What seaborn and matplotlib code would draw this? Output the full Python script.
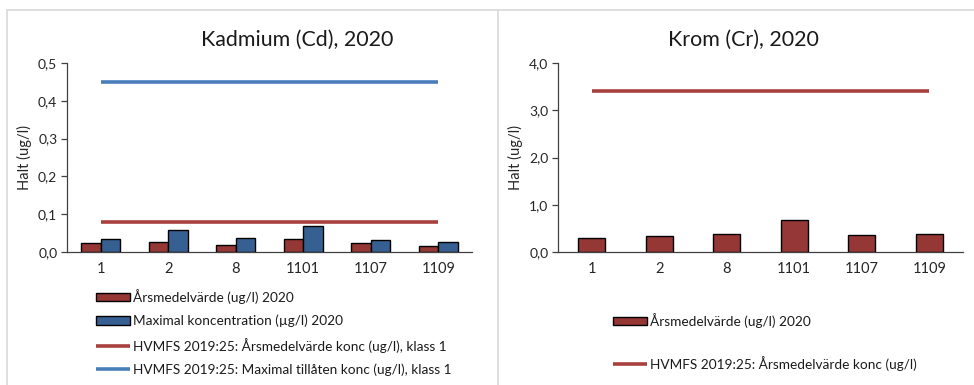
import numpy as np
import pandas as pd
import matplotlib
matplotlib.use("Agg")
import matplotlib.pyplot as plt
from matplotlib.lines import Line2D
from matplotlib.patches import Patch
import seaborn as sns

# Stations and measured values
stations = ["1", "2", "8", "1101", "1107", "1109"]

cd_mean = [0.025, 0.026, 0.019, 0.034, 0.023, 0.017]
cd_max = [0.035, 0.057, 0.036, 0.068, 0.032, 0.026]
cd_limit_mean = [0.08, 0.08, 0.08, 0.08, 0.08, 0.08]
cd_limit_max = [0.45, 0.45, 0.45, 0.45, 0.45, 0.45]

cr_mean = [0.29, 0.34, 0.38, 0.67, 0.36, 0.39]
cr_limit_mean = [3.4, 3.4, 3.4, 3.4, 3.4, 3.4]

cd_yticks = [0.0, 0.1, 0.2, 0.3, 0.4, 0.5]
cr_yticks = [0.0, 1.0, 2.0, 3.0, 4.0]

lbl_mean = "Årsmedelvärde (ug/l) 2020"
lbl_max = "Maximal koncentration (µg/l) 2020"
lbl_lim_mean = "HVMFS 2019:25: Årsmedelvärde konc (ug/l), klass 1"
lbl_lim_max = "HVMFS 2019:25: Maximal tillåten konc (ug/l), klass 1"
lbl_lim_cr = "HVMFS 2019:25: Årsmedelvärde konc (ug/l)"

BAR_RED = "#953735"
BAR_BLUE = "#376092"
LINE_RED = "#A8403E"
LINE_BLUE = "#4A7EBB"
AXIS_COL = "#404040"

sns.set_style("white")
plt.rcParams["font.family"] = ["Lato", "DejaVu Sans"]
plt.rcParams["text.color"] = "#1a1a1a"

W, H = 974, 385
fig = plt.figure(figsize=(W / 100, H / 100), dpi=100)


def fx(px):
    return px / W


def fy(py):
    return 1 - py / H


def style_axis(ax, yticks):
    ax.set_xlim(-0.5, len(stations) - 0.5)
    ax.set_ylim(yticks[0], yticks[-1])
    ax.set_yticks(yticks)
    ax.set_yticklabels([f"{v:.1f}".replace(".", ",") for v in yticks])
    ax.set_xlabel("")
    ax.set_ylabel("Halt (ug/l)", fontsize=10.5, labelpad=4)
    for s in ("top", "right"):
        ax.spines[s].set_visible(False)
    for s in ("left", "bottom"):
        ax.spines[s].set_color(AXIS_COL)
        ax.spines[s].set_linewidth(0.9)
    ax.tick_params(axis="y", which="both", left=True, length=4, width=0.9,
                   color=AXIS_COL, labelsize=10, pad=3)
    ax.tick_params(axis="x", length=0, labelsize=10.5, pad=7)


def bar_handle(color):
    return Patch(facecolor=color, edgecolor="black", linewidth=1.0)


def line_handle(color):
    return Line2D([], [], color=color, lw=2.6, solid_capstyle="butt")


# ---- Kadmium panel ----
ax1 = fig.add_axes([fx(67), fy(252), fx(405), (252 - 63) / H])
cd_df = pd.DataFrame({
    "station": stations * 2,
    "serie": [lbl_mean] * len(stations) + [lbl_max] * len(stations),
    "halt": cd_mean + cd_max,
})
sns.barplot(data=cd_df, x="station", y="halt", hue="serie", order=stations,
            palette=[BAR_RED, BAR_BLUE], width=0.58, edgecolor="black",
            linewidth=1.0, saturation=1, legend=False, ax=ax1)
pos = np.arange(len(stations))
ax1.plot(pos, cd_limit_mean, color=LINE_RED, lw=2.6, solid_capstyle="butt")
ax1.plot(pos, cd_limit_max, color=LINE_BLUE, lw=2.6, solid_capstyle="butt")
style_axis(ax1, cd_yticks)

# ---- Krom panel ----
ax2 = fig.add_axes([fx(558), fy(252), fx(405), (252 - 63) / H])
cr_df = pd.DataFrame({"station": stations, "halt": cr_mean})
sns.barplot(data=cr_df, x="station", y="halt", order=stations, color=BAR_RED,
            width=0.4, edgecolor="black", linewidth=1.0, saturation=1,
            ax=ax2)
ax2.plot(pos, cr_limit_mean, color=LINE_RED, lw=2.6, solid_capstyle="butt")
style_axis(ax2, cr_yticks)

# Titles
fig.text(fx(297), fy(40), "Kadmium (Cd), 2020", ha="center", va="center",
         fontsize=15.4)
fig.text(fx(743), fy(40), "Krom (Cr), 2020", ha="center", va="center",
         fontsize=15.4)

# Legends
leg_kw = dict(frameon=False, fontsize=9.8, handlelength=2.5, handleheight=0.6,
              handletextpad=0.25, borderpad=0, borderaxespad=0,
              loc="upper left")
fig.legend([bar_handle(BAR_RED), bar_handle(BAR_BLUE),
            line_handle(LINE_RED), line_handle(LINE_BLUE)],
           [lbl_mean, lbl_max, lbl_lim_mean, lbl_lim_max],
           bbox_to_anchor=(fx(96), fy(289)), labelspacing=0.78, **leg_kw)
fig.legend([bar_handle(BAR_RED), line_handle(LINE_RED)],
           [lbl_mean, lbl_lim_cr],
           bbox_to_anchor=(fx(613), fy(313)), labelspacing=2.05, **leg_kw)

# Chart area frames
frame = dict(color="#D9D9D9", lw=1.2, transform=fig.transFigure)
fig.add_artist(Line2D([fx(7), fx(7)], [fy(10), 0], **frame))
fig.add_artist(Line2D([fx(7), 1], [fy(10), fy(10)], **frame))
fig.add_artist(Line2D([fx(497.5), fx(497.5)], [fy(10), 0], **frame))

fig.savefig("out.png", dpi=100, facecolor="white")
